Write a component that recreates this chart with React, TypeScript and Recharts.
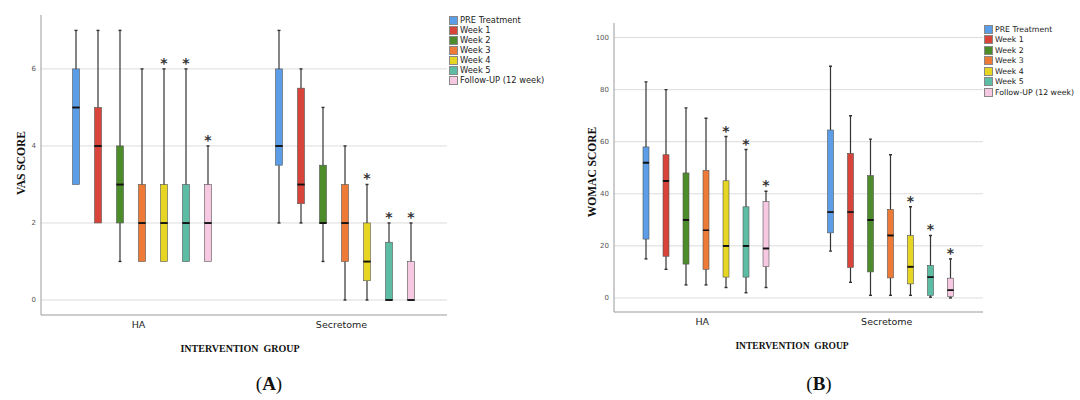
import React from 'react';
import { Bar, BarChart, CartesianGrid, XAxis, YAxis } from 'recharts';

const CATEGORIES = ['HA', 'Secretome'];
const SERIES = ['PRE Treatment', 'Week 1', 'Week 2', 'Week 3', 'Week 4', 'Week 5', 'Follow-UP (12 week)'];
const COLORS = ['#5b9de6', '#d8443a', '#4d8c2b', '#ee7a37', '#e6d623', '#5cbca4', '#f6c8e2'];

// [min, q1, median, q3, max] per series
const VAS_HA = [
  [3, 3, 5, 6, 7],
  [2, 2, 4, 5, 7],
  [1, 2, 3, 4, 7],
  [1, 1, 2, 3, 6],
  [1, 1, 2, 3, 6],
  [1, 1, 2, 3, 6],
  [1, 1, 2, 3, 4],
];
const VAS_SECRETOME = [
  [2, 3.5, 4, 6, 7],
  [2, 2.5, 3, 5.5, 6],
  [1, 2, 2, 3.5, 5],
  [0, 1, 2, 3, 4],
  [0, 0.5, 1, 2, 3],
  [0, 0, 0, 1.5, 2],
  [0, 0, 0, 1, 2],
];
const WOMAC_HA = [
  [15, 22.6, 52, 58, 83],
  [11, 16, 45, 55, 80],
  [5, 13, 30, 48, 73],
  [5, 11, 26, 49, 69],
  [4, 8, 20, 45, 62],
  [2, 8, 20, 35, 57],
  [4, 12, 19, 37, 41],
];
const WOMAC_SECRETOME = [
  [18, 25, 33, 64.5, 89],
  [6, 11.7, 33, 55.5, 70],
  [1, 10, 30, 47, 61],
  [1, 7.7, 24, 34, 55],
  [1, 5.4, 12, 24, 35],
  [0.3, 1, 8, 12.5, 24],
  [0, 0.5, 3, 7.6, 15],
];
const STARS_HA = [false, false, false, false, true, true, true];
const STARS_SECRETOME = [false, false, false, false, true, true, true];

const VAS_TICKS = [0, 2, 4, 6];
const WOMAC_TICKS = [0, 20, 40, 60, 80, 100];

function buildRows(groups: number[][][], stars: boolean[][]) {
  return CATEGORIES.map((cat, c) => {
    const row: Record<string, any> = { cat };
    groups[c].forEach(([mn, q1, md, q3, mx], i) => {
      row[`base${i}`] = mn;
      row[`wl${i}`] = q1 - mn;
      row[`bl${i}`] = md - q1;
      row[`bh${i}`] = q3 - md;
      row[`wh${i}`] = mx - q3;
      row[`star${i}`] = stars[c][i];
    });
    return row;
  });
}

const vasRows = buildRows([VAS_HA, VAS_SECRETOME], [STARS_HA, STARS_SECRETOME]);
const womacRows = buildRows([WOMAC_HA, WOMAC_SECRETOME], [STARS_HA, STARS_SECRETOME]);

const WHISKER = '#333';
const OUTLINE = '#555';

const Empty = () => <g />;

function lowWhisker(props: any) {
  const { x, y, width, height } = props;
  if (!height) return <g />;
  const cx = x + width / 2;
  return (
    <g>
      <line x1={cx} x2={cx} y1={y} y2={y + height} stroke={WHISKER} strokeWidth={1.2} />
      <line x1={cx - 1.5} x2={cx + 1.5} y1={y + height} y2={y + height} stroke={WHISKER} strokeWidth={1.4} />
    </g>
  );
}

function makeBox(color: string, bw: number, medianAtTop: boolean) {
  return (props: any) => {
    const { x, y, width, height } = props;
    const cx = x + width / 2;
    const my = medianAtTop ? y : y + height;
    return (
      <g>
        <rect x={cx - bw / 2} y={y} width={bw} height={Math.max(height, 0)} fill={color} stroke={OUTLINE} strokeWidth={0.6} />
        <line x1={cx - bw / 2} x2={cx + bw / 2} y1={my} y2={my} stroke="#111" strokeWidth={1.7} />
      </g>
    );
  };
}

function makeHighWhisker(i: number) {
  return (props: any) => {
    const { x, y, width, height, payload } = props;
    const cx = x + width / 2;
    return (
      <g>
        {height > 0 && (
          <>
            <line x1={cx} x2={cx} y1={y} y2={y + height} stroke={WHISKER} strokeWidth={1.2} />
            <line x1={cx - 1.5} x2={cx + 1.5} y1={y} y2={y} stroke={WHISKER} strokeWidth={1.4} />
          </>
        )}
        {payload && payload[`star${i}`] && (
          <text x={cx} y={y - 1} textAnchor="middle" fontSize={14} fontWeight="bold" fontFamily="DejaVu Sans" fill="#333">
            *
          </text>
        )}
      </g>
    );
  };
}

function boxSeries(bw: number) {
  return SERIES.map((name, i) => [
    <Bar key={`base${i}`} dataKey={`base${i}`} stackId={`s${i}`} shape={Empty} isAnimationActive={false} />,
    <Bar key={`wl${i}`} dataKey={`wl${i}`} stackId={`s${i}`} shape={lowWhisker} isAnimationActive={false} />,
    <Bar key={`bl${i}`} dataKey={`bl${i}`} stackId={`s${i}`} shape={makeBox(COLORS[i], bw, true)} isAnimationActive={false} />,
    <Bar key={`bh${i}`} dataKey={`bh${i}`} stackId={`s${i}`} shape={makeBox(COLORS[i], bw, false)} isAnimationActive={false} />,
    <Bar key={`wh${i}`} dataKey={`wh${i}`} stackId={`s${i}`} name={name} shape={makeHighWhisker(i)} isAnimationActive={false} />,
  ]);
}

function LegendBox({ left, top, rowH, fontSize }: { left: number; top: number; rowH: number; fontSize: number }) {
  return (
    <div style={{ position: 'absolute', left, top, fontFamily: 'DejaVu Sans', fontSize, color: '#1a1a1a' }}>
      {SERIES.map((s, i) => (
        <div key={s} style={{ display: 'flex', alignItems: 'center', height: rowH, whiteSpace: 'nowrap' }}>
          <div style={{ width: 7, height: 7, background: COLORS[i], border: '1px solid #888', marginRight: 2, flexShrink: 0 }} />
          <span>{s}</span>
        </div>
      ))}
    </div>
  );
}

const serifTitle: React.CSSProperties = {
  position: 'absolute',
  fontFamily: 'Liberation Serif',
  fontWeight: 'bold',
  color: '#111',
  whiteSpace: 'pre',
  transform: 'translate(-50%, -50%)',
};

const tickStyle = { fontSize: 7, fill: '#555', fontFamily: 'DejaVu Sans' };
const catStyle = { fontSize: 9.5, fill: '#222', fontFamily: 'DejaVu Sans' };

export default function App() {
  return (
    <div style={{ position: 'absolute', left: 0, top: 0, width: 1080, height: 400, background: '#fff' }}>
      <div style={{ position: 'absolute', left: 0, top: 0 }}>
        <BarChart width={550} height={340} data={vasRows} margin={{ top: 15, right: 103, bottom: 0, left: 11 }} barCategoryGap={24} barGap={0}>
          <CartesianGrid vertical={false} stroke="#dcdcdc" horizontalValues={VAS_TICKS} />
          <XAxis dataKey="cat" height={25} tickLine={false} tickSize={0} tickMargin={6} axisLine={{ stroke: '#9a9a9a' }} tick={catStyle} dx={-4} />
          <YAxis
            type="number"
            width={30}
            domain={[-0.39, 7.4]}
            ticks={VAS_TICKS}
            allowDataOverflow
            tickLine={false}
            tickSize={0}
            tickMargin={5}
            axisLine={{ stroke: '#9a9a9a' }}
            tick={tickStyle}
          />
          {boxSeries(7)}
        </BarChart>
      </div>
      <LegendBox left={449} top={15} rowH={10} fontSize={8.3} />
      <div style={{ ...serifTitle, left: 21, top: 163, fontSize: 11.5, transform: 'translate(-50%, -50%) rotate(-90deg)' }}>VAS SCORE</div>
      <div style={{ ...serifTitle, left: 240, top: 348, fontSize: 10 }}>INTERVENTION  GROUP</div>
      <div style={{ ...serifTitle, left: 269, top: 384, fontSize: 19, fontWeight: 'normal' }}>
        (<b>A</b>)
      </div>

      <div style={{ position: 'absolute', left: 540, top: 0 }}>
        <BarChart width={540} height={340} data={womacRows} margin={{ top: 23, right: 97, bottom: 0, left: 44 }} barCategoryGap={22} barGap={0}>
          <CartesianGrid vertical={false} stroke="#dcdcdc" horizontalValues={WOMAC_TICKS} />
          <XAxis dataKey="cat" height={28} tickLine={false} tickSize={0} tickMargin={6} axisLine={{ stroke: '#9a9a9a' }} tick={catStyle} dx={-4} />
          <YAxis
            type="number"
            width={30}
            domain={[-5.4, 105.6]}
            ticks={WOMAC_TICKS}
            allowDataOverflow
            tickLine={false}
            tickSize={0}
            tickMargin={5}
            axisLine={{ stroke: '#9a9a9a' }}
            tick={tickStyle}
          />
          {boxSeries(6)}
        </BarChart>
      </div>
      <LegendBox left={984} top={24} rowH={10.5} fontSize={7.8} />
      <div style={{ ...serifTitle, left: 592, top: 172, fontSize: 11.5, transform: 'translate(-50%, -50%) rotate(-90deg)' }}>WOMAC SCORE</div>
      <div style={{ ...serifTitle, left: 792, top: 346, fontSize: 9.5 }}>INTERVENTION  GROUP</div>
      <div style={{ ...serifTitle, left: 819, top: 384, fontSize: 19, fontWeight: 'normal' }}>
        (<b>B</b>)
      </div>
    </div>
  );
}
